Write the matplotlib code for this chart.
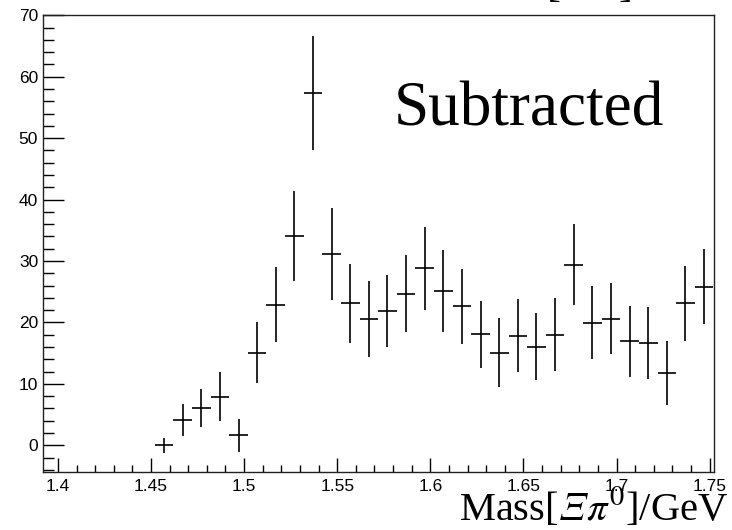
import matplotlib
matplotlib.use("Agg")
import matplotlib.pyplot as plt
from matplotlib.ticker import MultipleLocator, FixedLocator, FuncFormatter

# ---- data ----
mass_centers = [1.457, 1.467, 1.477, 1.487, 1.497, 1.507, 1.517, 1.527, 1.537, 1.547,
                1.557, 1.567, 1.577, 1.587, 1.597, 1.607, 1.617, 1.627, 1.637, 1.647,
                1.657, 1.667, 1.677, 1.687, 1.697, 1.707, 1.717, 1.727, 1.737, 1.747]
counts = [0.0, 4.15, 6.1, 7.9, 1.6, 15.1, 22.9, 34.1, 57.4, 31.1,
          23.1, 20.6, 21.9, 24.7, 28.8, 25.1, 22.6, 18.05, 15.1, 17.85,
          16.05, 18.0, 29.4, 19.95, 20.6, 16.9, 16.7, 11.8, 23.1, 25.8]
count_errors = [1.2, 2.65, 3.05, 4.0, 2.75, 5.0, 6.1, 7.3, 9.3, 7.5,
                6.4, 6.2, 5.85, 6.25, 6.7, 6.65, 6.1, 5.5, 5.55, 5.95,
                5.45, 5.9, 6.55, 5.95, 5.8, 5.85, 5.85, 5.25, 6.15, 6.1]
bin_width = 0.01
x_tick_values = [1.4, 1.45, 1.5, 1.55, 1.6, 1.65, 1.7, 1.75]
y_tick_values = [0, 10, 20, 30, 40, 50, 60, 70]

plt.rcParams['mathtext.fontset'] = 'stix'

W, H, DPI = 732, 530, 100
fig = plt.figure(figsize=(W / DPI, H / DPI), dpi=DPI)
ax = fig.add_axes([43 / W, 1 - 472.3 / H, (714.3 - 43) / W, (472.3 - 15) / H])

ax.errorbar(mass_centers, counts, xerr=bin_width / 2, yerr=count_errors,
            fmt='none', ecolor='black', elinewidth=1.2, capsize=0)

ax.set_xlim(1.392, 1.7525)
ax.set_ylim(-4.4, 70.05)

ax.xaxis.set_major_locator(FixedLocator(x_tick_values))
ax.xaxis.set_minor_locator(MultipleLocator(0.01))
ax.yaxis.set_major_locator(FixedLocator(y_tick_values))
ax.yaxis.set_minor_locator(MultipleLocator(2))
ax.xaxis.set_major_formatter(FuncFormatter(lambda v, p: f"{v:g}"))
ax.yaxis.set_major_formatter(FuncFormatter(lambda v, p: f"{v:g}"))

px = 72 / DPI
ax.tick_params(axis='x', which='major', direction='in', length=14.5 * px, width=1.0,
               pad=5, labelsize=12.5, top=False)
ax.tick_params(axis='x', which='minor', direction='in', length=7 * px, width=1.0, top=False)
ax.tick_params(axis='y', which='major', direction='in', length=21 * px, width=1.0,
               pad=3.5, labelsize=12.5, right=False)
ax.tick_params(axis='y', which='minor', direction='in', length=11 * px, width=1.0, right=False)
for lab in ax.get_xticklabels() + ax.get_yticklabels():
    lab.set_fontfamily('Liberation Sans')

for s in ax.spines.values():
    s.set_linewidth(1.0)
    s.set_color('#222222')

serif = ['Liberation Serif', 'DejaVu Serif']
fig.text(394 / W, 1 - 125 / H, "Subtracted", fontsize=45.5, family=serif,
         ha='left', va='baseline')
fig.text(728 / W, 1 - 520 / H, "Mass[$\U0001D6EF\\pi^{0}$]/GeV", fontsize=29.2,
         family=serif, ha='right', va='baseline')

# clipped title remnants at the top
fig.text(547 / W, 1 - 5 / H, "[", fontsize=30, family=serif, ha='left', va='bottom')
fig.text(632 / W, 1 - 5 / H, "]", fontsize=30, family=serif, ha='right', va='bottom')

fig.savefig("out.png", dpi=DPI)
